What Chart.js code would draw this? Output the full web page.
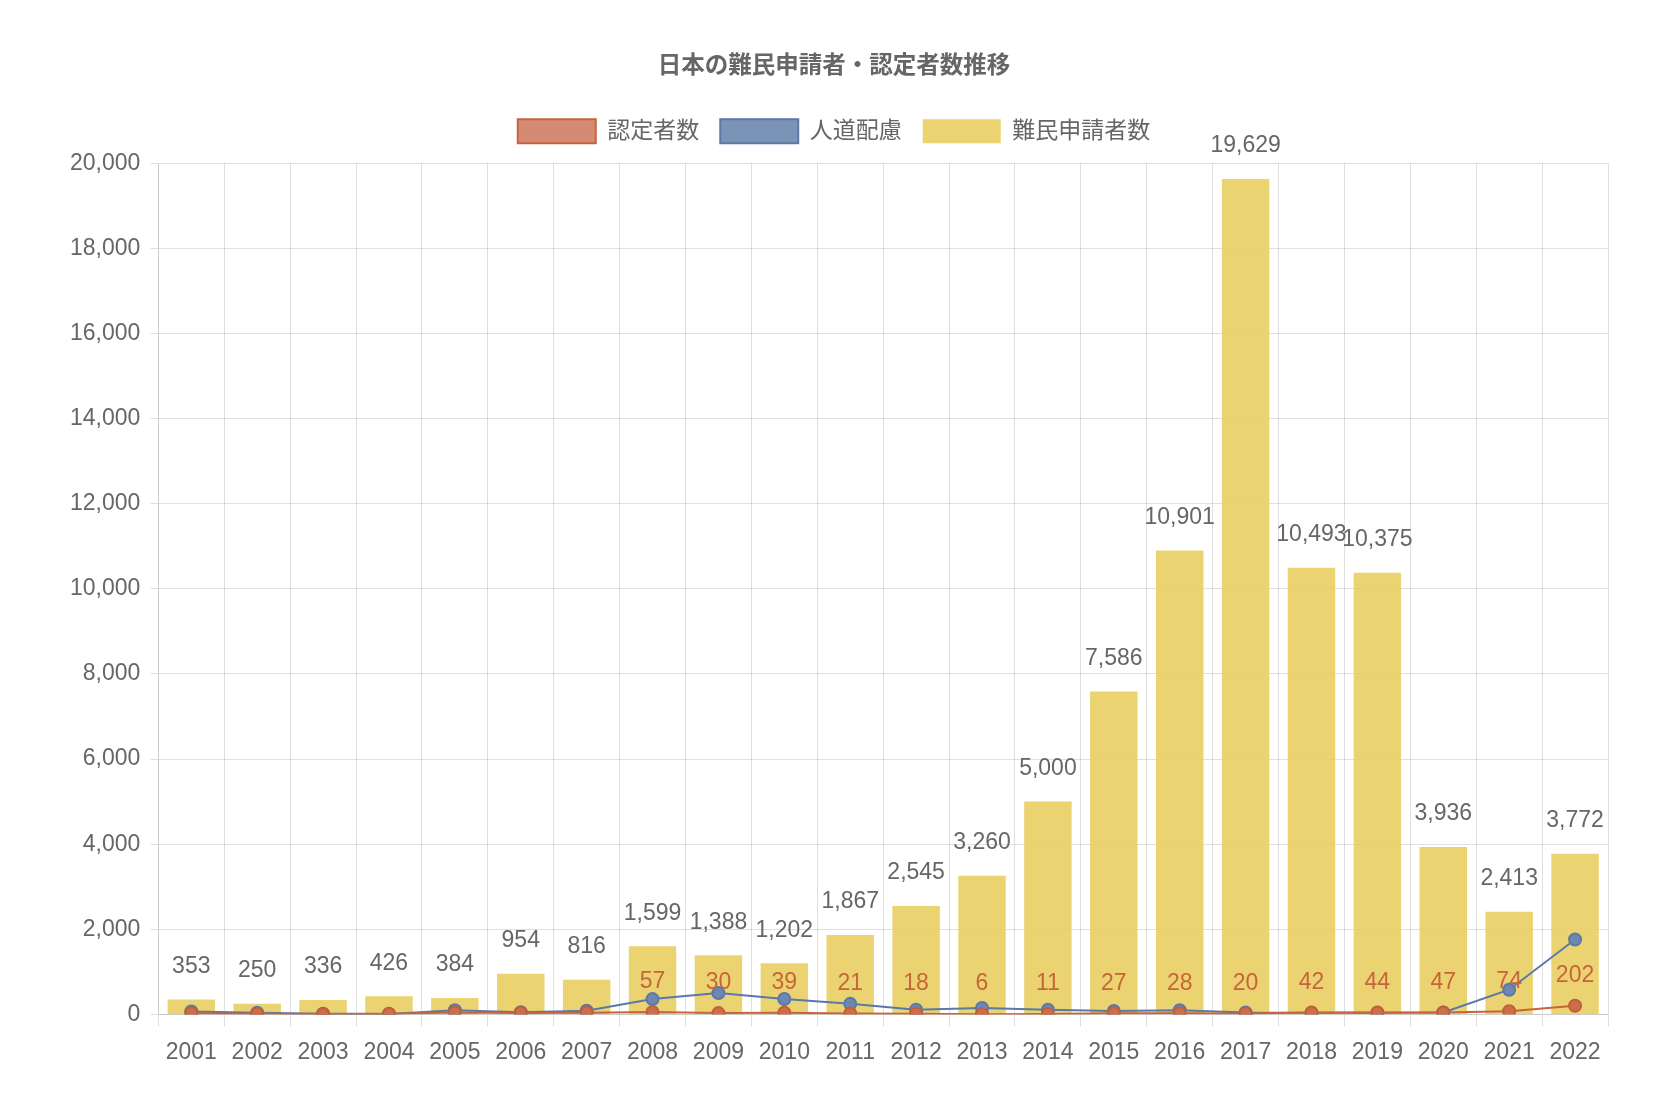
<!DOCTYPE html>
<html>
<head>
<meta charset="utf-8">
<script src="https://cdn.jsdelivr.net/npm/chart.js@4.4.0/dist/chart.umd.min.js"></script>
<style>
  html, body { margin: 0; padding: 0; background: #fff; }
  #wrap { width: 1678px; height: 1110px; }
</style>
</head>
<body>
<div id="wrap"><canvas id="refChart"></canvas></div>
<script>
var years = ['2001', '2002', '2003', '2004', '2005', '2006', '2007', '2008', '2009', '2010', '2011',
    '2012', '2013', '2014', '2015', '2016', '2017', '2018', '2019', '2020', '2021', '2022'];
var recognized = [26, 14, 10, 15, 46, 34, 41, 57, 30, 39, 21, 18, 6, 11, 27, 28, 20, 42, 44, 47, 74, 202];
var humanitarian = [67, 40, 16, 9, 97, 53, 88, 360, 501, 363, 248, 112, 151, 110, 79, 97, 45, 40, 37, 44, 580, 1760];
var applicants = [353, 250, 336, 426, 384, 954, 816, 1599, 1388, 1202, 1867, 2545, 3260, 5000, 7586, 10901,
    19629, 10493, 10375, 3936, 2413, 3772];
var yTicks = [0, 2000, 4000, 6000, 8000, 10000, 12000, 14000, 16000, 18000, 20000];

var FONT = '"Liberation Sans", "Noto Sans CJK JP", Arial, sans-serif';
Chart.defaults.font.family = FONT;
Chart.defaults.color = '#666';

// value labels above bars, and 認定者数 labels only where they fit inside the bar
var valueLabels = {
    id: 'valueLabels',
    afterDatasetsDraw: function (chart) {
        var ctx = chart.ctx;
        ctx.save();
        ctx.font = '23px ' + FONT;
        ctx.textAlign = 'center';
        ctx.textBaseline = 'middle';

        var bars = chart.getDatasetMeta(2).data;
        bars.forEach(function (bar, i) {
            ctx.fillStyle = '#666';
            ctx.fillText(applicants[i].toLocaleString('en-US'), bar.x, bar.y - 33);
        });

        var pts = chart.getDatasetMeta(0).data;
        pts.forEach(function (pt, i) {
            var y = pt.y - 30;
            if (y - 12 < bars[i].y) return;
            ctx.fillStyle = '#c8643c';
            ctx.fillText(String(recognized[i]), pt.x, y);
        });
        ctx.restore();
    }
};

// a bit more room below the legend
var legendGap = {
    id: 'legendGap',
    beforeInit: function (chart) {
        var fit = chart.legend.fit;
        chart.legend.fit = function () {
            fit.bind(chart.legend)();
            this.height += 10;
        };
    }
};

new Chart(document.getElementById('refChart'), {
    type: 'bar',
    data: {
        labels: years,
        datasets: [
            {
                type: 'line',
                label: '認定者数',
                data: recognized,
                borderColor: '#c8643c',
                backgroundColor: 'rgba(200, 110, 80, 0.8)',
                pointBackgroundColor: '#cd6e48',
                pointBorderColor: '#c0603a',
                borderWidth: 2,
                pointRadius: 6,
                tension: 0
            },
            {
                type: 'line',
                label: '人道配慮',
                data: humanitarian,
                borderColor: '#5a78a8',
                backgroundColor: 'rgba(110, 135, 176, 0.9)',
                pointBackgroundColor: '#6e87b0',
                pointBorderColor: '#5a78a8',
                borderWidth: 2,
                pointRadius: 6,
                tension: 0
            },
            {
                label: '難民申請者数',
                data: applicants,
                backgroundColor: 'rgba(232, 206, 96, 0.9)',
                borderWidth: 0
            }
        ]
    },
    options: {
        responsive: true,
        maintainAspectRatio: false,
        animation: false,
        layout: {
            padding: { left: 60, right: 70, top: 52, bottom: 32 }
        },
        plugins: {
            title: {
                display: true,
                text: '日本の難民申請者・認定者数推移',
                font: { size: 23.5, weight: 'bold' },
                color: '#666',
                padding: { top: 0, bottom: 18 }
            },
            legend: {
                labels: {
                    font: { size: 23 },
                    boxWidth: 78,
                    boxHeight: 24,
                    padding: 21
                }
            },
            tooltip: { enabled: false }
        },
        scales: {
            x: {
                ticks: { font: { size: 23 }, color: '#666', padding: 12 },
                grid: { color: 'rgba(0,0,0,0.12)', tickLength: 12 }
            },
            y: {
                min: 0,
                max: 20000,
                afterBuildTicks: function (axis) {
                    axis.ticks = yTicks.map(function (v) { return { value: v }; });
                },
                ticks: {
                    font: { size: 23 },
                    color: '#666',
                    padding: 10,
                    callback: function (v) { return v.toLocaleString('en-US'); }
                },
                grid: { color: 'rgba(0,0,0,0.12)' }
            }
        }
    },
    plugins: [valueLabels, legendGap]
});
</script>
</body>
</html>
